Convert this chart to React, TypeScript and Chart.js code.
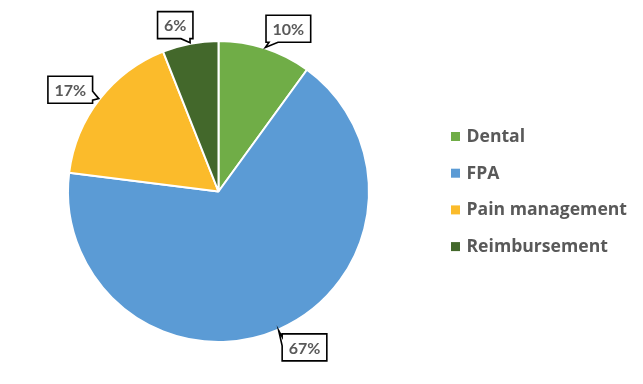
import React, { useEffect, useRef } from "react";
import { Chart, registerables } from "chart.js";

Chart.register(...registerables);

const categories = ["Dental", "FPA", "Pain management", "Reimbursement"];
const shares = [10, 67, 17, 6];
const sliceColors = ["#70AD47", "#5B9BD5", "#FBBB2B", "#43682B"];
// style: nudges of callout boxes relative to their radial position
const labelNudges = [
  [15, 6],
  [15.5, -7],
  [-8, 7],
  [-10, 8],
];

const LABEL_FONT = "Lato, 'Open Sans', sans-serif";
const LEGEND_FONT = "'Open Sans', Lato, sans-serif";
const TEXT_COLOR = "#595959";

const calloutPlugin = {
  id: "callouts",
  afterDatasetsDraw(chart: any) {
    const ctx = chart.ctx as CanvasRenderingContext2D;
    const meta = chart.getDatasetMeta(0);
    const data = chart.data.datasets[0].data as number[];
    const total = data.reduce((a, b) => a + b, 0);
    ctx.save();
    ctx.font = `bold 16px ${LABEL_FONT}`;
    meta.data.forEach((arc: any, i: number) => {
      const { x, y, startAngle, endAngle, outerRadius } = arc.getProps(
        ["x", "y", "startAngle", "endAngle", "outerRadius"],
        true
      );
      const mid = (startAngle + endAngle) / 2;
      const r = outerRadius + 1;
      const tip = { x: x + Math.cos(mid) * r, y: y + Math.sin(mid) * r };
      const dist = outerRadius + 27;
      const cx = x + Math.cos(mid) * dist + labelNudges[i][0];
      const cy = y + Math.sin(mid) * dist + labelNudges[i][1];
      const text = Math.round((data[i] / total) * 100) + "%";
      const tw = ctx.measureText(text).width;
      const w = tw + 13;
      const h = 27;
      const L = cx - w / 2;
      const T = cy - h / 2;
      const R = L + w;
      const B = T + h;
      const bw = 9;
      const ox = tip.x < L ? L - tip.x : tip.x > R ? tip.x - R : 0;
      const oy = tip.y < T ? T - tip.y : tip.y > B ? tip.y - B : 0;
      const clamp = (v: number, lo: number, hi: number) => Math.max(lo, Math.min(hi, v));
      let side: string;
      if (oy >= ox) side = tip.y < T ? "top" : "bottom";
      else side = tip.x < L ? "left" : "right";

      ctx.beginPath();
      ctx.moveTo(L, T);
      if (side === "top") {
        const b0 = clamp(tip.x - bw / 2, L + 3, R - 3 - bw);
        ctx.lineTo(b0, T);
        ctx.lineTo(tip.x, tip.y);
        ctx.lineTo(b0 + bw, T);
      }
      ctx.lineTo(R, T);
      if (side === "right") {
        const b0 = clamp(tip.y - bw / 2, T + 3, B - 3 - bw);
        ctx.lineTo(R, b0);
        ctx.lineTo(tip.x, tip.y);
        ctx.lineTo(R, b0 + bw);
      }
      ctx.lineTo(R, B);
      if (side === "bottom") {
        const b0 = clamp(tip.x - bw / 2, L + 3, R - 3 - bw);
        ctx.lineTo(b0 + bw, B);
        ctx.lineTo(tip.x, tip.y);
        ctx.lineTo(b0, B);
      }
      ctx.lineTo(L, B);
      if (side === "left") {
        const b0 = clamp(tip.y - bw / 2, T + 3, B - 3 - bw);
        ctx.lineTo(L, b0 + bw);
        ctx.lineTo(tip.x, tip.y);
        ctx.lineTo(L, b0);
      }
      ctx.closePath();
      ctx.fillStyle = "#ffffff";
      ctx.fill();
      ctx.lineWidth = 1.6;
      ctx.strokeStyle = "#000000";
      ctx.lineJoin = "miter";
      ctx.stroke();

      ctx.fillStyle = TEXT_COLOR;
      ctx.textAlign = "center";
      ctx.textBaseline = "middle";
      ctx.fillText(text, cx, cy + 1);
    });
    ctx.restore();
  },
};

const legendPlugin = {
  id: "sideLegend",
  afterDraw(chart: any) {
    const ctx = chart.ctx as CanvasRenderingContext2D;
    const labels = chart.data.labels as string[];
    const colors = chart.data.datasets[0].backgroundColor as string[];
    const x0 = 451;
    const y0 = 136.5;
    const gap = 36.7;
    const box = 9;
    ctx.save();
    ctx.font = `bold 17.6px ${LEGEND_FONT}`;
    ctx.textBaseline = "middle";
    ctx.textAlign = "left";
    labels.forEach((lab, i) => {
      const yy = y0 + i * gap;
      ctx.fillStyle = colors[i];
      ctx.fillRect(x0, yy - box / 2, box, box);
      ctx.fillStyle = TEXT_COLOR;
      ctx.fillText(lab, x0 + 15.5, yy + 0.5);
    });
    ctx.restore();
  },
};

export default function App() {
  const ref = useRef<HTMLCanvasElement>(null);
  useEffect(() => {
    const chart = new Chart(ref.current as HTMLCanvasElement, {
      type: "pie",
      data: {
        labels: categories,
        datasets: [
          {
            data: shares,
            backgroundColor: sliceColors,
            borderColor: "#ffffff",
            borderWidth: 2,
          },
        ],
      },
      options: {
        responsive: false,
        animation: false,
        layout: { padding: { left: 67, right: 273, top: 40, bottom: 41 } },
        plugins: {
          legend: { display: false },
          tooltip: { enabled: false },
        },
      },
      plugins: [calloutPlugin, legendPlugin],
    } as any);
    return () => chart.destroy();
  }, []);
  return (
    <div style={{ position: "fixed", left: 0, top: 0, width: 643, height: 384, background: "#ffffff" }}>
      <canvas ref={ref} width={643} height={384} style={{ display: "block", width: 643, height: 384 }} />
    </div>
  );
}
